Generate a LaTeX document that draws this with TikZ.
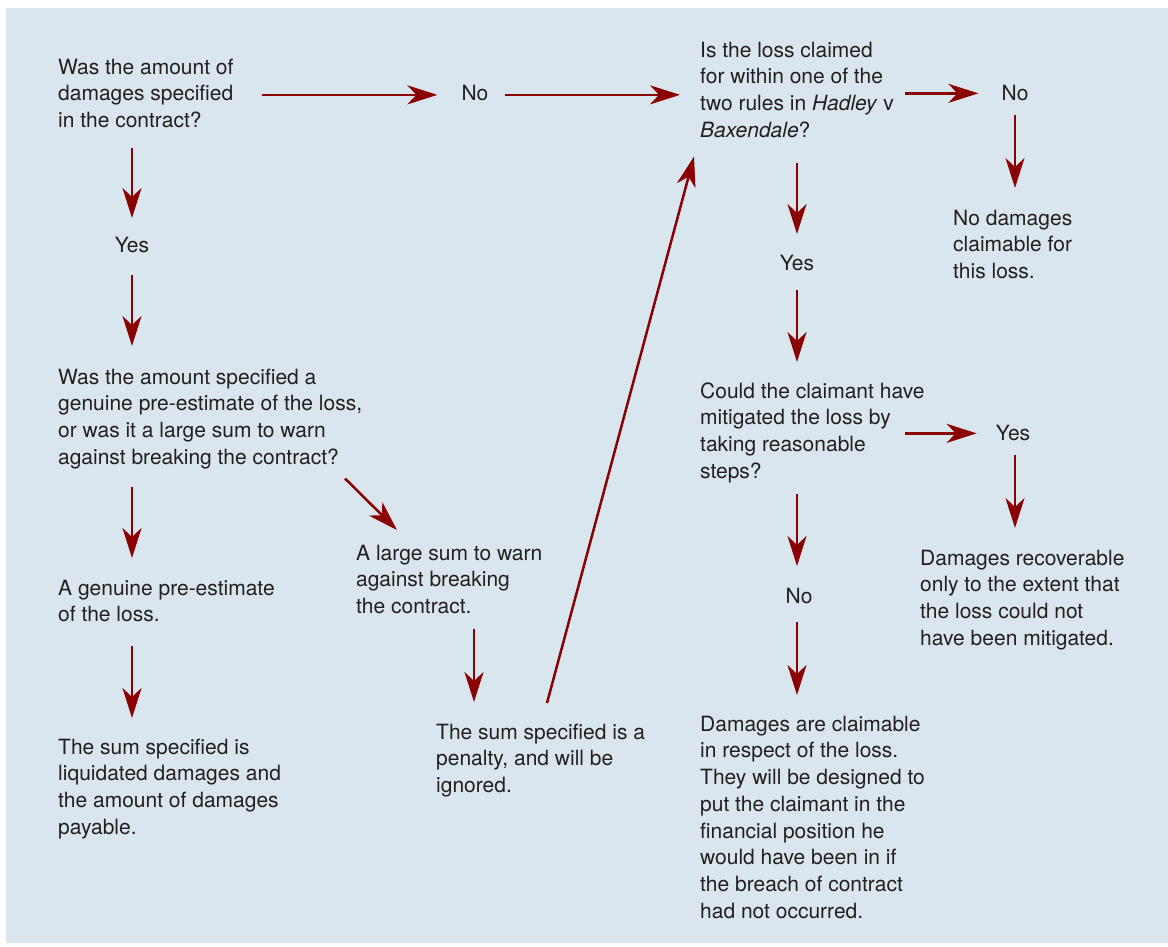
\documentclass[tikz,border=0pt]{standalone}
\usepackage{fontspec}
\setmainfont{TeX Gyre Heros}
\usetikzlibrary{arrows.meta,calc}
\definecolor{bgc}{RGB}{218,230,238}
\definecolor{arrc}{RGB}{139,0,0}
\definecolor{txtc}{RGB}{35,31,32}
\begin{document}
\begin{tikzpicture}[x=1pt,y=-1pt,
  txt/.style={anchor=north west, inner sep=0pt, align=left, text=txtc,
    font=\fontsize{21}{26.7}\selectfont, execute at end node=\strut},
  lbl/.style={txt, anchor=north, align=center},
  arr/.style={draw=arrc, line width=2.5pt,
    -{Stealth[length=30pt, width=19pt, inset=9pt]}}]
\useasboundingbox (0,0) rectangle (1168,946);
\fill[bgc] (6,8) rectangle (1168,943);

% left branch: specified damages
\node[txt] (q1) at (58,55.3) {\strut Was the amount of\\damages specified\\in the contract?};
\node[lbl] (no1) at (475,81.3) {\strut No};
\node[lbl] (yes1) at (132,233.3) {\strut Yes};
\node[txt] (q2) at (58,365.3) {\strut Was the amount specified a\\genuine pre-estimate of the loss,\\or was it a large sum to warn\\against breaking the contract?};
\node[txt] (gen) at (58,576.3) {\strut A genuine pre-estimate\\of the loss.};
\node[txt] (liq) at (58,735.3) {\strut The sum specified is\\liquidated damages and\\the amount of damages\\payable.};
\node[txt] (large) at (356,541.3) {\strut A large sum to warn\\against breaking\\the contract.};
\node[txt] (pen) at (436,720.3) {\strut The sum specified is a\\penalty, and will be\\ignored.};

% right branch: remoteness and mitigation
\node[txt] (q3) at (700,38.3) {\strut Is the loss claimed\\for within one of the\\two rules in \textit{Hadley} v\\\textit{Baxendale}?};
\node[lbl] (no2) at (1015,81.3) {\strut No};
\node[txt] (nodam) at (953,206.3) {\strut No damages\\claimable for\\this loss.};
\node[lbl] (yes2) at (797,251.3) {\strut Yes};
\node[txt] (q4) at (700,379.3) {\strut Could the claimant have\\mitigated the loss by\\taking reasonable\\steps?};
\node[lbl] (yes3) at (1013,421.3) {\strut Yes};
\node[txt] (recov) at (920,546.3) {\strut Damages recoverable\\only to the extent that\\the loss could not\\have been mitigated.};
\node[lbl] (no3) at (799,584.3) {\strut No};
\node[txt] (dam) at (700,712.3) {\strut Damages are claimable\\in respect of the loss.\\They will be designed to\\put the claimant in the\\financial position he\\would have been in if\\the breach of contract\\had not occurred.};

% connectors, left
\draw[arr] ($(q1.west |- no1)+(204,0)$) -- ($(no1.west)+(-24,0)$);
\draw[arr] ($(no1.east)+(16,0)$) -- ($(no1.east -| q3.west)+(-20,0)$);
\draw[arr, shorten <=12pt, shorten >=15.3pt] (q1.south -| yes1) -- (yes1.north);
\draw[arr, shorten <=15pt, shorten >=19.3pt] (yes1.south) -- (yes1.south |- q2.north);
\draw[arr, shorten <=14pt, shorten >=18.3pt] (q2.south -| yes1) -- (yes1 |- gen.north);
\draw[arr, shorten <=16pt, shorten >=17.3pt] (gen.south -| yes1) -- (yes1 |- liq.north);
\draw[arr] ($(q2.south west)+(287,6)$) -- ($(large.north west)+(41,-11.3)$);
\draw[arr] ($(large.south west)+(118,7)$) -- ($(pen.north west)+(38,-18.3)$);
\draw[arr] ($(pen.north west)+(111,-17.3)$) -- ($(q3.south west)+(-6,11)$);

% connectors, right
\draw[arr] ($(q3.west |- no2)+(205,-1.5)$) -- ($(no2.west)+(-23,-1.5)$);
\draw[arr, shorten <=7pt, shorten >=18.3pt] (no2.south) -- (no2.south |- nodam.north);
\draw[arr, shorten <=17pt, shorten >=17.3pt] (q3.south -| yes2) -- (yes2.north);
\draw[arr, shorten <=12pt, shorten >=17.3pt] (yes2.south) -- (yes2.south |- q4.north);
\draw[arr, shorten <=7pt, shorten >=18.3pt] (q4.south -| yes2) -- (yes2 |- no3.north);
\draw[arr, shorten <=11pt, shorten >=17.3pt] (no3.south -| yes2) -- (yes2 |- dam.north);
\draw[arr] ($(q4.west |- yes3)+(205,-1.5)$) -- ($(yes3.west)+(-19,-1.5)$);
\draw[arr, shorten <=7pt, shorten >=18.3pt] (yes3.south -| no2) -- (no2 |- recov.north);
\end{tikzpicture}
\end{document}
